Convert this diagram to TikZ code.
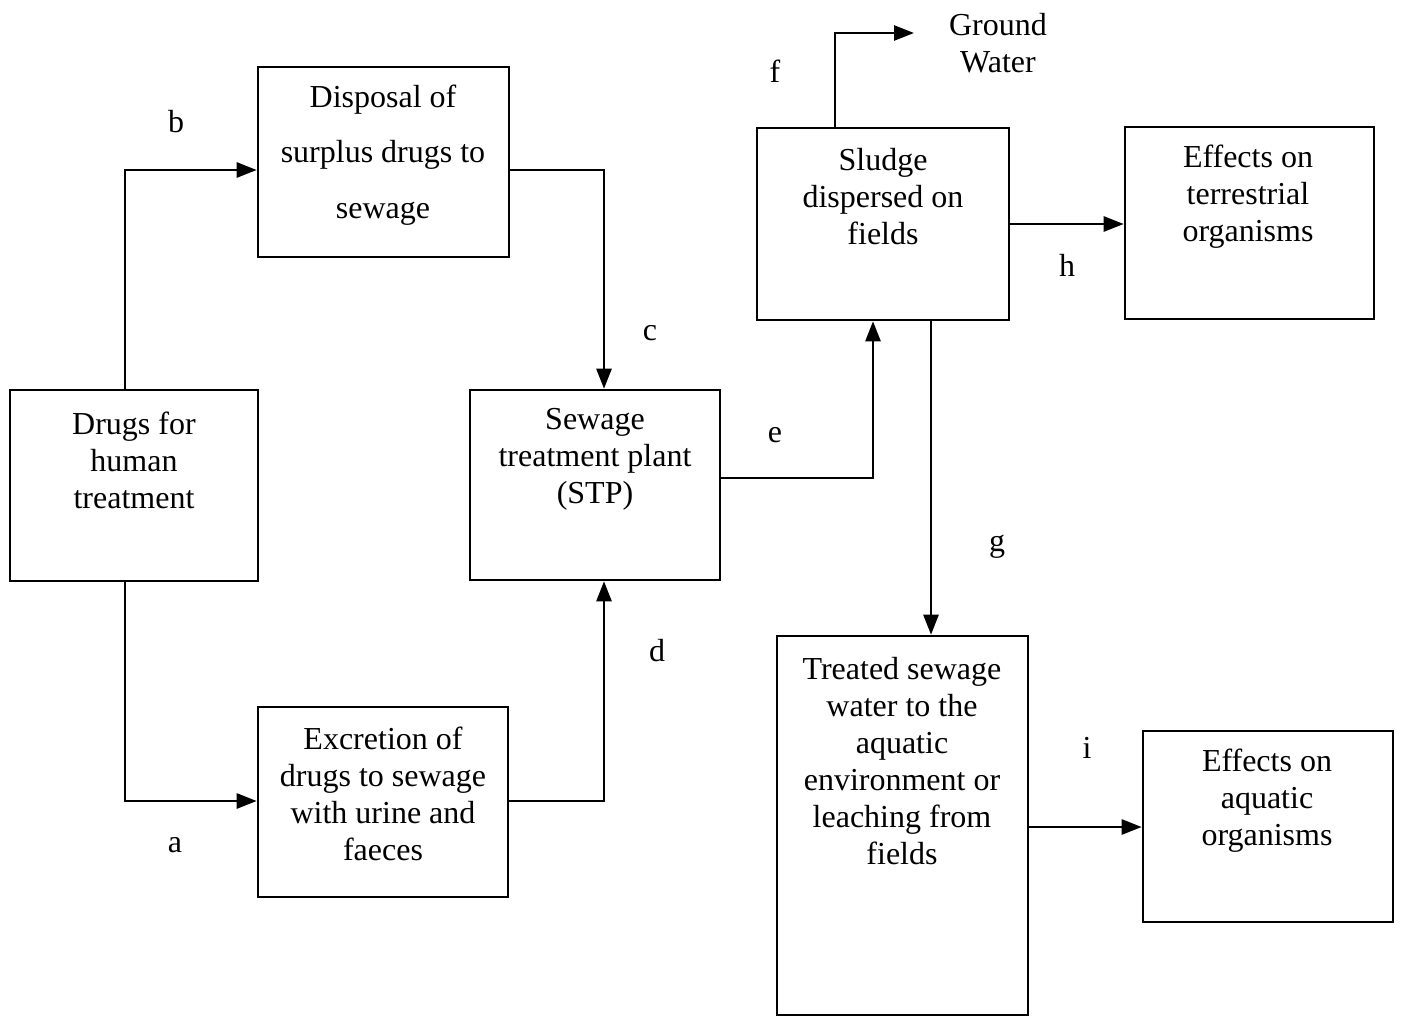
\documentclass[tikz,border=0pt]{standalone}
\usepackage{fontspec}
\setmainfont{Liberation Serif}
\usetikzlibrary{arrows.meta}
\begin{document}
\begin{tikzpicture}[x=1pt,y=-1pt,
  boxx/.style={draw,line width=2.6pt,inner sep=0pt,rectangle},
  txt/.style={align=center,inner sep=0pt,font=\fontsize{32}{37}\selectfont},
  lbl/.style={inner sep=0pt,font=\fontsize{32}{37}\selectfont},
  conn/.style={line width=2.6pt,-{Triangle[length=20pt,width=15pt]}}]
\useasboundingbox (0,0) rectangle (1402,1017);
\fill[white] (0,0) rectangle (1402,1017);
% boxes
\node[boxx,minimum width=248pt,minimum height=191pt] (drugs) at (134,485.5) {};
\node[boxx,minimum width=251pt,minimum height=190pt] (disp) at (383.5,162) {};
\node[boxx,minimum width=250pt,minimum height=190pt] (stp) at (595,485) {};
\node[boxx,minimum width=250pt,minimum height=190pt] (excr) at (383,802) {};
\node[boxx,minimum width=252pt,minimum height=192pt] (sludge) at (883,224) {};
\node[boxx,minimum width=249pt,minimum height=192pt] (terr) at (1249.5,223) {};
\node[boxx,minimum width=251pt,minimum height=379pt] (treat) at (902.5,825.5) {};
\node[boxx,minimum width=250pt,minimum height=191pt] (aqua) at (1268,826.5) {};
% texts
\node[txt] (tdrugs) at (134,460) {Drugs for\\human\\treatment};
\node[txt,font=\fontsize{32}{55.5}\selectfont] (tdisp) at (383,155) {Disposal of\\surplus drugs to\\sewage};
\node[txt] (tstp) at (595,459) {Sewage\\treatment plant\\(STP)};
\node[txt] (texcr) at (383,794) {Excretion of\\drugs to sewage\\with urine and\\faeces};
\node[txt] (tsludge) at (883,197) {Sludge\\dispersed on\\fields};
\node[txt] (tterr) at (1248,197) {Effects on\\terrestrial\\organisms};
\node[txt] (ttreat) at (902,761) {Treated sewage\\water to the\\aquatic\\environment or\\leaching from\\fields};
\node[txt] (taqua) at (1267,801) {Effects on\\aquatic\\organisms};
\node[txt] (ground) at (998,43) {Ground\\Water};
\coordinate (gw) at (914,33);
% labels
\node[lbl] (la) at (175,845) {a};
\node[lbl] (lb) at (176,122) {b};
\node[lbl] (lc) at (650,333) {c};
\node[lbl] (ld) at (657,651) {d};
\node[lbl] (le) at (775,435) {e};
\node[lbl] (lf) at (775,71) {f};
\node[lbl] (lg) at (997,547) {g};
\node[lbl] (lh) at (1067,265) {h};
\node[lbl] (li) at (1087,748) {i};
% connectors
\draw[conn] (drugs.north -| 125,0) |- (disp.west |- 0,170);
\draw[conn] (drugs.south -| 125,0) |- (excr.west |- 0,801);
\draw[conn] (disp.east |- 0,170) -| (stp.north -| 604,0);
\draw[conn] (excr.east |- 0,801) -| (stp.south -| 604,0);
\draw[conn] (stp.east |- 0,478) -| (sludge.south -| 873,0);
\draw[conn] (sludge.north -| 835,0) |- (gw);
\draw[conn] (sludge.east |- 0,224) -- (terr.west |- 0,224);
\draw[conn] (sludge.south -| 931,0) -- (treat.north -| 931,0);
\draw[conn] (treat.east |- 0,827) -- (aqua.west |- 0,827);
\end{tikzpicture}
\end{document}
